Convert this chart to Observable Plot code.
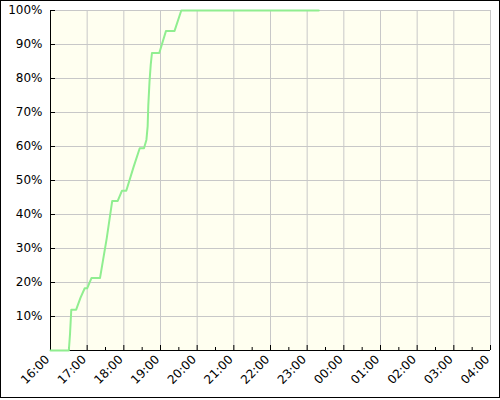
<!DOCTYPE html>
<html>
<head>
<meta charset="utf-8">
<script src="https://cdn.jsdelivr.net/npm/d3@7"></script>
<script src="https://cdn.jsdelivr.net/npm/@observablehq/plot@0.6"></script>
<style>
  html, body { margin: 0; padding: 0; background: white; }
  #wrap { position: relative; width: 500px; height: 400px; }
  #border { position: absolute; left: 0; top: 0; width: 500px; height: 398px; box-sizing: border-box; border: 1px solid black; pointer-events: none; }
  #chart { position: absolute; left: 0; top: 0; }
</style>
</head>
<body>
<div id="wrap"><div id="chart"></div><div id="border"></div></div>
<script>
// Data
const times = ["16:00","16:30","16:32","16:34","16:42","16:49","16:56","17:00","17:07","17:21","17:32","17:41","17:50","17:57","18:04","18:16","18:26","18:33","18:37","18:39","18:40","18:42","18:44","18:46","18:58","19:09","19:23","19:34","23:19"];
const values = [0,0,5,12,12,15.5,18.3,18.3,21.3,21.3,33,44,44,47,47,54,59.5,59.5,62,66,72,79,84,87.5,87.5,94,94,100,100];
const hourLabels = ["16:00","17:00","18:00","19:00","20:00","21:00","22:00","23:00","00:00","01:00","02:00","03:00","04:00"];
const halfHourLabels = ["16:30","17:30","18:30","19:30","20:30","21:30","22:30","23:30","00:30","01:30","02:30","03:30"];
const yTicks = [10,20,30,40,50,60,70,80,90,100];

function toDate(s) {
  const [h, m] = s.split(":").map(Number);
  const day = h < 12 ? 2 : 1;
  return new Date(Date.UTC(2024, 0, day, h, m));
}

const data = times.map((t, i) => ({time: toDate(t), value: values[i]}));
const hours = hourLabels.map(toDate);
const halfHours = halfHourLabels.map(toDate);
const fmt = d3.utcFormat("%H:%M");

const chart = Plot.plot({
  width: 500,
  height: 400,
  marginLeft: 50,
  marginRight: 10,
  marginTop: 10,
  marginBottom: 50,
  style: {background: "transparent", fontFamily: "DejaVu Sans", fontSize: "12px", color: "black"},
  x: {type: "utc", domain: [hours[0], hours[hours.length - 1]], axis: null},
  y: {domain: [0, 100]},
  marks: [
    Plot.frame({fill: "#fffff0", stroke: null}),
    Plot.gridX(hours, {stroke: "#c8c8c8", strokeOpacity: 1}),
    Plot.gridY(yTicks, {stroke: "#c8c8c8", strokeOpacity: 1}),
    Plot.tickX(hours, {x: d => d, stroke: "black", insetTop: 335}),
    Plot.tickX(halfHours, {x: d => d, stroke: "black", insetTop: 337}),
    Plot.tickY(yTicks, {y: d => d, stroke: "black", insetRight: 435}),
    Plot.ruleY([0], {stroke: "black"}),
    Plot.ruleX([hours[0]], {stroke: "black"}),
    Plot.line(data, {x: "time", y: "value", stroke: "#90ee90", strokeWidth: 2}),
    Plot.text(hours, {x: d => d, text: d => fmt(d), frameAnchor: "bottom", rotate: -45, textAnchor: "end", lineAnchor: "middle", dx: -3, dy: 7, fill: "black", fontSize: 12}),
    Plot.axisY(yTicks, {tickFormat: d => d + "%", tickSize: 0, tickPadding: 8, label: null, fill: "black"})
  ]
});
document.getElementById("chart").appendChild(chart);
</script>
</body>
</html>
